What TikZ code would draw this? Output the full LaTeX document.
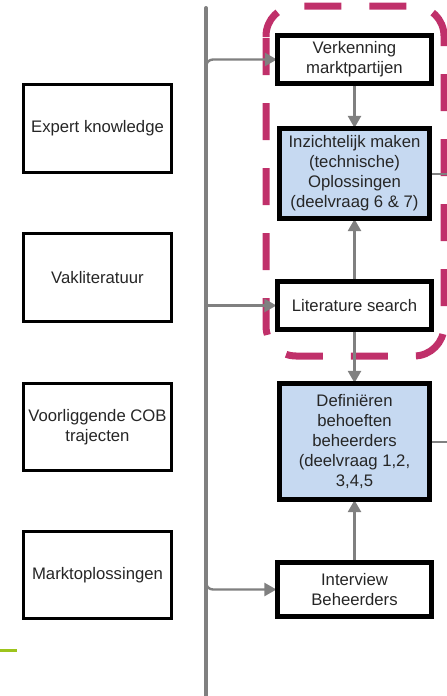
\documentclass[tikz,border=0pt]{standalone}
\usepackage{fontspec}
\setmainfont{Liberation Sans}
\usetikzlibrary{arrows.meta}
\definecolor{framecol}{HTML}{C0306A}
\definecolor{conncol}{HTML}{808080}
\definecolor{bluefill}{HTML}{C6D9F1}
\definecolor{greencol}{HTML}{9DC41C}
\definecolor{textcol}{HTML}{262626}
\tikzset{
  box/.style={draw=black, line width=3.2pt, fill=white, align=center, text=textcol,
    font=\fontsize{16.7}{20}\selectfont, inner sep=0pt},
  bluebox/.style={box, fill=bluefill},
  conn/.style={draw=conncol, line width=2.4pt, -{Triangle[width=13pt,length=12pt]}},
  plainconn/.style={draw=conncol, line width=2pt},
  spine/.style={draw=conncol, line width=4pt},
  frame/.style={draw=framecol, line width=7pt, dash pattern=on 37pt off 28pt, rounded corners=30pt},
}
\begin{document}
\begin{tikzpicture}[x=1pt,y=-1pt]
\useasboundingbox (0,0) rectangle (447,696);

% dashed frame
\coordinate (f0) at (266,38);
\coordinate (f1) at (266,356);
\coordinate (f2) at (444,356);
\coordinate (f3) at (444,6);
\coordinate (f4) at (266,6);
\coordinate (f5) at (266,37);
\draw[frame] (f0) -- (f1) -- (f2) -- (f3) -- (f4) -- (f5);

% left boxes
\node[box, minimum width=148pt, minimum height=88pt] (exp) at (97.5,128.5) {Expert knowledge};
\node[box, minimum width=148pt, minimum height=88pt] (vak) at (97.5,277.5) {Vakliteratuur};
\node[box, minimum width=148pt, minimum height=87pt] (voo) at (97.5,427) {Voorliggende COB\\trajecten};
\node[box, minimum width=148pt, minimum height=87pt] (mar) at (97.5,575) {Marktoplossingen};

% right boxes
\node[box, minimum width=152pt, minimum height=47pt] (ver) at (354.5,59.5) {Verkenning\\marktpartijen};
\node[bluebox, minimum width=148pt, minimum height=88pt] (inz) at (354.5,173.5) {Inzichtelijk maken\\(technische)\\Oplossingen\\(deelvraag 6 \& 7)};
\node[box, minimum width=153pt, minimum height=46pt] (lit) at (354.5,305.5) {Literature search};
\node[bluebox, minimum width=148pt, minimum height=114pt] (def) at (354.5,441.5) {Definiëren\\behoeften\\beheerders\\(deelvraag 1,2,\\3,4,5};
\node[box, minimum width=153pt, minimum height=52pt] (int) at (354.5,589.5) {Interview\\Beheerders};

% coordinates
\coordinate (s1) at (206,8);
\coordinate (s2) at (206,696);
\coordinate (b1) at (206,72);
\coordinate (b1c) at (206,59.5);
\coordinate (b2) at (206,305.5);
\coordinate (b3) at (206,577);
\coordinate (b3c) at (206,589.5);
\coordinate (r1) at (447,173.5);
\coordinate (r2) at (447,441.5);
\coordinate (g1) at (0,650);
\coordinate (g2) at (17,650);

% connectors
\draw[conn, rounded corners=7pt] (b1) -- (b1c) -- (ver.west);
\draw[conn] (b2) -- (lit.west);
\draw[conn, rounded corners=7pt] (b3) -- (b3c) -- (int.west);
\draw[spine, line cap=round] (s1) -- (s2);
\draw[conn] (ver.south) -- (inz.north);
\draw[conn] (lit.north) -- (inz.south);
\draw[conn] (lit.south) -- (def.north);
\draw[conn] (int.north) -- (def.south);
\draw[plainconn] (inz.east) -- (r1);
\draw[plainconn] (def.east) -- (r2);

% redraw box borders on top of arrow tips
\foreach \n in {ver,inz,lit,def,int} {\draw[line width=3.2pt] (\n.north west) rectangle (\n.south east);}

\draw[draw=greencol, line width=3pt] (g1) -- (g2);
\end{tikzpicture}
\end{document}
